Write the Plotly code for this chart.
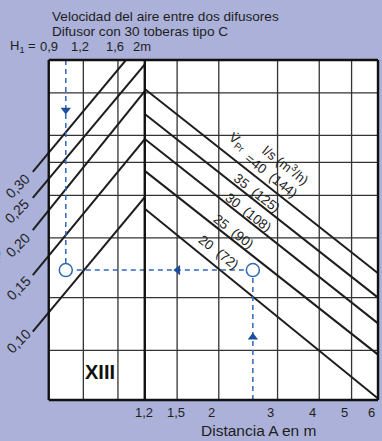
import numpy as np
import plotly.graph_objects as go

# Right part: air volume lines V_Pr in l/s and (m3/h), read at A = 1,2 m and A = 6 m
flow_ls = [40, 35, 30, 25, 20]
flow_m3h = [144, 125, 108, 90, 72]
flow_y_start = [0.822, 0.694, 0.586, 0.472, 0.365]
flow_y_end = [0.236, 0.200, 0.168, 0.136, 0.101]
flow_label_a = [2.86, 2.61, 2.45, 2.21, 2.0]
flow_label_y = [0.456, 0.406, 0.355, 0.312, 0.271]

# Left part: velocity lines v_H1 in m/s
vel_labels = ["0,30", "0,25", "0,20", "0,15", "0,10"]
vel_h1_start = [0.788, 0.788, 0.788, 0.788, 0.788]
vel_y_start = [0.469, 0.393, 0.316, 0.233, 0.159]
vel_h1_end = [1.71, 2.0, 2.0, 2.0, 2.0]
vel_y_end = [1.0, 0.97, 0.81, 0.585, 0.395]
vel_label_h1 = [0.695, 0.690, 0.695, 0.701, 0.701]
vel_label_y = [0.426, 0.360, 0.286, 0.2135, 0.149]

# axes / grid
h1_ticks = [0.9, 1.2, 1.6, 2.0]
h1_ticktext = ["0,9", "1,2", "1,6", "2m"]
dist_ticks = [1.2, 1.5, 2, 3, 4, 5, 6]
dist_ticktext = ["1,2", "1,5", "2", "3", "4", "5", "6"]
grid_y = [0.8, 0.6, 0.5, 0.4, 0.3, 0.2, 0.14]
Y_MIN, Y_MAX = 0.1, 1.0
H1_MIN, H1_MAX = 0.6, 2.0
A_MIN, A_MAX = 1.2, 6.0

# worked example
ex_a = 2.53
ex_h1 = 1.037
ex_y = 0.241
arrow_up_y = 0.153
arrow_left_a = 1.507
arrow_down_y = 0.713

BG = "#abb1d8"
INK = "#1e1e1e"
BLUE = "#2f68b4"
DARKBLUE = "#1b4f9e"
GRID = dict(color="#333333", width=1.3)
lg = np.log10
split = 0.383

fig = go.Figure()


def add_line(x, y, axis, line, mode="lines", **kw):
    fig.add_trace(go.Scatter(x=x, y=y, xaxis=axis, yaxis="y", mode=mode, line=line,
                             hoverinfo="skip", **kw))


# white chart field
h0 = h1_ticks[0]
add_line([h0, H1_MAX, H1_MAX, h0], [Y_MIN, Y_MIN, Y_MAX, Y_MAX], "x", dict(width=0),
         fill="toself", fillcolor="white")
add_line([A_MIN, A_MAX, A_MAX, A_MIN], [Y_MIN, Y_MIN, Y_MAX, Y_MAX], "x2", dict(width=0),
         fill="toself", fillcolor="white")

# grid lines
gx, gy = [], []
for h in h1_ticks[1:-1]:
    gx += [h, h, None]
    gy += [Y_MIN, Y_MAX, None]
for yv in grid_y:
    gx += [h0, H1_MAX, None]
    gy += [yv, yv, None]
add_line(gx, gy, "x", GRID)
gx, gy = [], []
for a in dist_ticks[1:-1]:
    gx += [a, a, None]
    gy += [Y_MIN, Y_MAX, None]
for yv in grid_y:
    gx += [A_MIN, A_MAX, None]
    gy += [yv, yv, None]
add_line(gx, gy, "x2", GRID)

for y0, y1 in zip(flow_y_start, flow_y_end):
    add_line([A_MIN, A_MAX], [y0, y1], "x2", dict(color=INK, width=2))

for hs, y0, he, y1 in zip(vel_h1_start, vel_y_start, vel_h1_end, vel_y_end):
    add_line([hs, he], [y0, y1], "x", dict(color=INK, width=2))

# dashed reading path
dash = dict(color=BLUE, width=1.5, dash="5px,4px")
add_line([ex_a, ex_a], [Y_MIN, ex_y], "x2", dash)
add_line([ex_a, A_MIN], [ex_y, ex_y], "x2", dash)
add_line([H1_MAX, ex_h1], [ex_y, ex_y], "x", dash)
add_line([ex_h1, ex_h1], [Y_MAX, ex_y], "x", dash)

fig.add_trace(go.Scatter(x=[ex_a], y=[arrow_up_y], xaxis="x2", yaxis="y", mode="markers",
                         marker=dict(symbol="triangle-up", size=9, color=DARKBLUE)))
fig.add_trace(go.Scatter(x=[arrow_left_a], y=[ex_y], xaxis="x2", yaxis="y", mode="markers",
                         marker=dict(symbol="triangle-left", size=9, color=DARKBLUE)))
fig.add_trace(go.Scatter(x=[ex_h1], y=[arrow_down_y], xaxis="x", yaxis="y", mode="markers",
                         marker=dict(symbol="triangle-down", size=9, color=DARKBLUE)))
circle = dict(symbol="circle", size=13, color="white", line=dict(color=BLUE, width=1.5))
fig.add_trace(go.Scatter(x=[ex_a], y=[ex_y], xaxis="x2", yaxis="y", mode="markers", marker=circle))
fig.add_trace(go.Scatter(x=[ex_h1], y=[ex_y], xaxis="x", yaxis="y", mode="markers", marker=circle))

# frame
frame = dict(color="#111111", width=2.4)
left_paper = split * (lg(h0) - lg(H1_MIN)) / (lg(H1_MAX) - lg(H1_MIN))
shapes = [
    dict(type="line", xref="paper", yref="paper", x0=left_paper, x1=left_paper, y0=0, y1=1, line=frame),
    dict(type="line", xref="paper", yref="paper", x0=1, x1=1, y0=0, y1=1, line=frame),
    dict(type="line", xref="paper", yref="paper", x0=split, x1=split, y0=0, y1=1, line=frame),
    dict(type="line", xref="paper", yref="paper", x0=left_paper, x1=1, y0=0, y1=0, line=frame),
    dict(type="line", xref="paper", yref="paper", x0=left_paper, x1=1, y0=1, y1=1, line=frame),
]


def note(**kw):
    base = dict(showarrow=False, xanchor="center", yanchor="middle")
    base.update(kw)
    return base


annotations = []
for a, t in zip(dist_ticks, dist_ticktext):
    annotations.append(note(x=lg(a), y=-0.038, xref="x2", yref="paper", text=t,
                            xshift=-7 if a >= 2 else -1, font=dict(size=13)))
annotations.append(note(x=0.685, y=-0.091, xref="paper", yref="paper", text="Distancia A en m",
                        font=dict(size=15.5)))
for h, t in zip(h1_ticks, h1_ticktext):
    annotations.append(note(x=lg(h), y=1.041, xref="x", yref="paper", text=t,
                            xshift=-3 if h > 1 else 0, font=dict(size=13)))
annotations.append(note(x=0.02, y=1.041, xref="paper", yref="paper", text="H<sub>1</sub> =",
                        xanchor="left", font=dict(size=13)))
annotations.append(note(x=0.132, y=1.129, xref="paper", yref="paper", xanchor="left",
                        text="Velocidad del aire entre dos difusores", font=dict(size=13.6)))
annotations.append(note(x=0.132, y=1.085, xref="paper", yref="paper", xanchor="left",
                        text="Difusor con 30 toberas tipo C", font=dict(size=13.6)))
annotations.append(note(x=-0.016, y=0.47, xref="paper", yref="paper", textangle=-90,
                        text="v<sub>H1</sub> in m/s", font=dict(size=13)))

for h, yv, t in zip(vel_label_h1, vel_label_y, vel_labels):
    annotations.append(note(x=lg(h), y=lg(yv), xref="x", yref="y", text=t, textangle=-45,
                            font=dict(size=14)))

for i, (q, m, a, yv) in enumerate(zip(flow_ls, flow_m3h, flow_label_a, flow_label_y)):
    txt = f"={q}  ({m})" if i == 0 else f"{q}  ({m})"
    annotations.append(note(x=lg(a), y=lg(yv), xref="x2", yref="y", text=txt, textangle=38,
                            font=dict(size=13.5)))
annotations.append(note(x=lg(2.26), y=lg(0.574), xref="x2", yref="y", text="V\u0307<sub>Pr</sub>",
                        textangle=38, font=dict(size=13.5)))
annotations.append(note(x=lg(3.19), y=lg(0.491), xref="x2", yref="y", text="l/s (m<sup>3</sup>/h)",
                        textangle=38, font=dict(size=13.5)))
annotations.append(note(x=lg(1.375), y=lg(0.121), xref="x", yref="y", text="<b>XIII</b>",
                        font=dict(size=20, color="#111111")))

hidden = dict(showgrid=False, zeroline=False, showline=False, showticklabels=False, ticks="")
fig.update_layout(
    width=382, height=441,
    margin=dict(l=0, r=4, t=60, b=41),
    paper_bgcolor=BG, plot_bgcolor="rgba(0,0,0,0)",
    showlegend=False,
    font=dict(family="Liberation Sans, Arial, sans-serif", size=12, color=INK),
    xaxis=dict(type="log", range=[lg(H1_MIN), lg(H1_MAX)], domain=[0, split], **hidden),
    xaxis2=dict(type="log", range=[lg(A_MIN), lg(A_MAX)], domain=[split, 1], anchor="y", **hidden),
    yaxis=dict(type="log", range=[lg(Y_MIN), lg(Y_MAX)], **hidden),
    shapes=shapes,
    annotations=annotations,
)

fig.write_html("out.html", config={"displayModeBar": False},
               post_script=f"document.body.style.margin='0';document.body.style.background='{BG}';")
